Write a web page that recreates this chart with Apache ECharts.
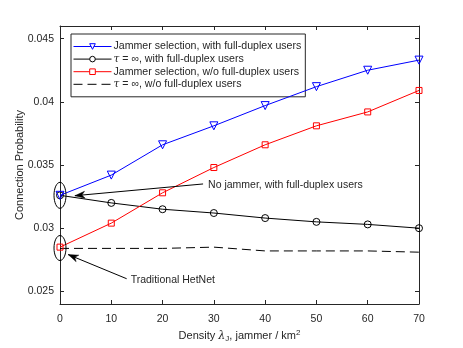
<!DOCTYPE html>
<html><head><meta charset="utf-8">
<script src="https://cdn.jsdelivr.net/npm/echarts@6/dist/echarts.min.js"></script>
<style>html,body{margin:0;padding:0;background:#fff}#c{width:463px;height:348px}</style>
</head><body><div id="c"></div>
<script>
var densities = [0, 10, 20, 30, 40, 50, 60, 70];
var jsFull = [0.0326, 0.0342, 0.0366, 0.0381, 0.0397, 0.0412, 0.0425, 0.0433];
var infFull = [0.0326, 0.0320, 0.0315, 0.0312, 0.0308, 0.0305, 0.0303, 0.0300];
var jsNoFull = [0.0285, 0.0304, 0.0328, 0.0348, 0.0366, 0.0381, 0.0392, 0.0409];
var infNoFull = [0.0284, 0.0284, 0.0284, 0.0285, 0.0282, 0.0282, 0.0282, 0.0281];
var yTicks = [0.025, 0.03, 0.035, 0.04, 0.045];
var seriesNames = ['Jammer selection, with full-duplex users', 'tau full', 'Jammer selection, w/o full-duplex users', 'tau nofull'];

var FONT = '"Liberation Sans", Arial, Helvetica, sans-serif';
var TXT = '#262626';
function pairs(arr){ return densities.map(function(d,i){ return [d, arr[i]]; }); }
function fmtY(v){ return String(+v.toFixed(3)); }

var chart = echarts.init(document.getElementById('c'), null, {renderer:'canvas'});
var axisLineStyle = {color:'#262626', width:1};
var option = {
  animation:false,
  backgroundColor:'#fff',
  textStyle:{fontFamily:FONT},
  grid:{left:60, right:44, top:26, bottom:42, containLabel:false},
  legend:{
    orient:'vertical', left:71, top:34, itemGap:1.6, itemWidth:38, itemHeight:7,
    padding:[7,4,7,2], borderColor:'#262626', borderWidth:1, backgroundColor:'#fff',
    textStyle:{fontFamily:FONT, fontSize:10.6, color:TXT, padding:[0,0,0,-3],
      rich:{t:{fontFamily:'"DejaVu Serif", "Liberation Serif", serif', fontStyle:'italic', fontSize:10.6, color:TXT}, n:{fontFamily:FONT, fontSize:10.6, color:TXT}}},
    data: [
      {name:seriesNames[0], lineStyle:{width:1}, itemStyle:{color:'#fff', borderColor:'#0000ff', borderWidth:1}},
      {name:seriesNames[1], lineStyle:{width:1}, itemStyle:{color:'#fff', borderColor:'#000', borderWidth:1}},
      {name:seriesNames[2], lineStyle:{width:1}, itemStyle:{color:'#fff', borderColor:'#ff0000', borderWidth:1}},
      {name:seriesNames[3], lineStyle:{width:1}, itemStyle:{opacity:0}}
    ],
    formatter:function(n){
      if(n==='tau full') return '{t|τ}{n| = ∞, with full-duplex users}';
      if(n==='tau nofull') return '{t|τ}{n| = ∞, w/o full-duplex users}';
      return n;
    }
  },
  xAxis:[{
    type:'value', min:0, max:70, interval:10, position:'bottom',
    axisLine:{show:true, onZero:false, lineStyle:axisLineStyle},
    axisTick:{show:true, inside:true, length:4, lineStyle:axisLineStyle},
    axisLabel:{color:TXT, fontSize:10.5, fontFamily:FONT, margin:10},
    splitLine:{show:false},
    name:'{a|Density }{l|λ}{s|J}{a|, jammer / km}{p|2}', nameLocation:'middle', nameGap:25, nameMoveOverlap:false,
    nameTextStyle:{color:TXT, fontSize:11, fontFamily:FONT,
      rich:{a:{fontSize:11, color:TXT, fontFamily:FONT},
            l:{fontSize:11, color:TXT, fontStyle:'italic', fontFamily:'"DejaVu Serif", serif'},
            s:{fontSize:8, color:TXT, verticalAlign:'bottom', padding:[6,0,0,0], fontFamily:FONT},
            p:{fontSize:8, color:TXT, verticalAlign:'top', padding:[0,0,6,0], fontFamily:FONT}}}
  },{
    type:'value', min:0, max:70, interval:10, position:'top',
    axisLine:{show:true, onZero:false, lineStyle:axisLineStyle},
    axisTick:{show:true, inside:true, length:4, lineStyle:axisLineStyle},
    axisLabel:{show:false}, splitLine:{show:false}
  }],
  yAxis:[{
    type:'value', min:0.024, max:0.046, position:'left',
    axisLine:{show:true, onZero:false, lineStyle:axisLineStyle},
    axisTick:{show:true, inside:true, length:4, lineStyle:axisLineStyle, customValues:yTicks},
    axisLabel:{color:TXT, fontSize:10.5, fontFamily:FONT, margin:6, customValues:yTicks, formatter:fmtY},
    splitLine:{show:false},
    name:'Connection Probability', nameLocation:'middle', nameGap:40, nameRotate:90, nameMoveOverlap:false,
    nameTextStyle:{color:TXT, fontSize:11, fontFamily:FONT, verticalAlign:'middle'}
  },{
    type:'value', min:0.024, max:0.046, position:'right',
    axisLine:{show:true, onZero:false, lineStyle:axisLineStyle},
    axisTick:{show:true, inside:true, length:4, lineStyle:axisLineStyle, customValues:yTicks},
    axisLabel:{show:false, customValues:yTicks}, splitLine:{show:false}
  }],
  series:[
    {name:seriesNames[0], type:'line', data:pairs(jsFull), symbol:'triangle', symbolRotate:180, symbolSize:8,
     lineStyle:{color:'#0000ff', width:1}, itemStyle:{color:'transparent', borderColor:'#0000ff', borderWidth:1}, color:'#0000ff', z:4},
    {name:seriesNames[1], type:'line', data:pairs(infFull), symbol:'circle', symbolSize:7,
     lineStyle:{color:'#000', width:1}, itemStyle:{color:'transparent', borderColor:'#000', borderWidth:1}, color:'#000', z:3},
    {name:seriesNames[2], type:'line', data:pairs(jsNoFull), symbol:'rect', symbolSize:6,
     lineStyle:{color:'#ff0000', width:1}, itemStyle:{color:'transparent', borderColor:'#ff0000', borderWidth:1}, color:'#ff0000', z:4},
    {name:seriesNames[3], type:'line', data:pairs(infNoFull), symbol:'none', showSymbol:false,
     lineStyle:{color:'#000', width:1, type:[9,5]}, itemStyle:{color:'#000'}, color:'#000', z:2}
  ]
};
chart.setOption(option);

// annotations (ellipses, arrows, text) anchored in data space
function px(x,y){ return chart.convertToPixel({xAxisIndex:0, yAxisIndex:0}, [x,y]); }
function arrowHead(tip, tail){
  var dx = tip[0]-tail[0], dy = tip[1]-tail[1], L = Math.sqrt(dx*dx+dy*dy);
  var ux = dx/L, uy = dy/L, nx = -uy, ny = ux, len = 10, w = 3.5;
  var b = [tip[0]-ux*len, tip[1]-uy*len];
  var m = [tip[0]-ux*len*0.7, tip[1]-uy*len*0.7];
  return [tip, [b[0]+nx*w, b[1]+ny*w], m, [b[0]-nx*w, b[1]-ny*w]];
}
var e1 = px(0, 0.0326), e2 = px(0, 0.02843);
var a1tip = px(2.9, 0.03257), a1tail = px(27.9, 0.03350);
var a2tip = px(1.6, 0.02791), a2tail = px(13.0, 0.02600);
var g = [];
g.push({type:'ellipse', shape:{cx:e1[0], cy:e1[1], rx:6, ry:13}, style:{fill:null, stroke:'#000', lineWidth:1}, z:10});
g.push({type:'ellipse', shape:{cx:e2[0], cy:e2[1], rx:6, ry:12.5}, style:{fill:null, stroke:'#000', lineWidth:1}, z:10});
g.push({type:'line', shape:{x1:a1tail[0], y1:a1tail[1], x2:a1tip[0], y2:a1tip[1]}, style:{stroke:'#000', lineWidth:1}, z:10});
g.push({type:'polygon', shape:{points:arrowHead(a1tip, a1tail)}, style:{fill:'#000', stroke:'#000', lineWidth:0.5}, z:10});
g.push({type:'line', shape:{x1:a2tail[0], y1:a2tail[1], x2:a2tip[0], y2:a2tip[1]}, style:{stroke:'#000', lineWidth:1}, z:10});
g.push({type:'polygon', shape:{points:arrowHead(a2tip, a2tail)}, style:{fill:'#000', stroke:'#000', lineWidth:0.5}, z:10});
g.push({type:'text', x:a1tail[0]+5, y:a1tail[1]+1, style:{text:'No jammer, with full-duplex users', fill:TXT, font:'10.5px '+FONT, textVerticalAlign:'middle'}, z:10});
g.push({type:'text', x:a2tail[0]+4, y:a2tail[1]+1, style:{text:'Traditional HetNet', fill:TXT, font:'10.5px '+FONT, textVerticalAlign:'middle'}, z:10});
chart.setOption({graphic:g});
</script>
</body></html>
